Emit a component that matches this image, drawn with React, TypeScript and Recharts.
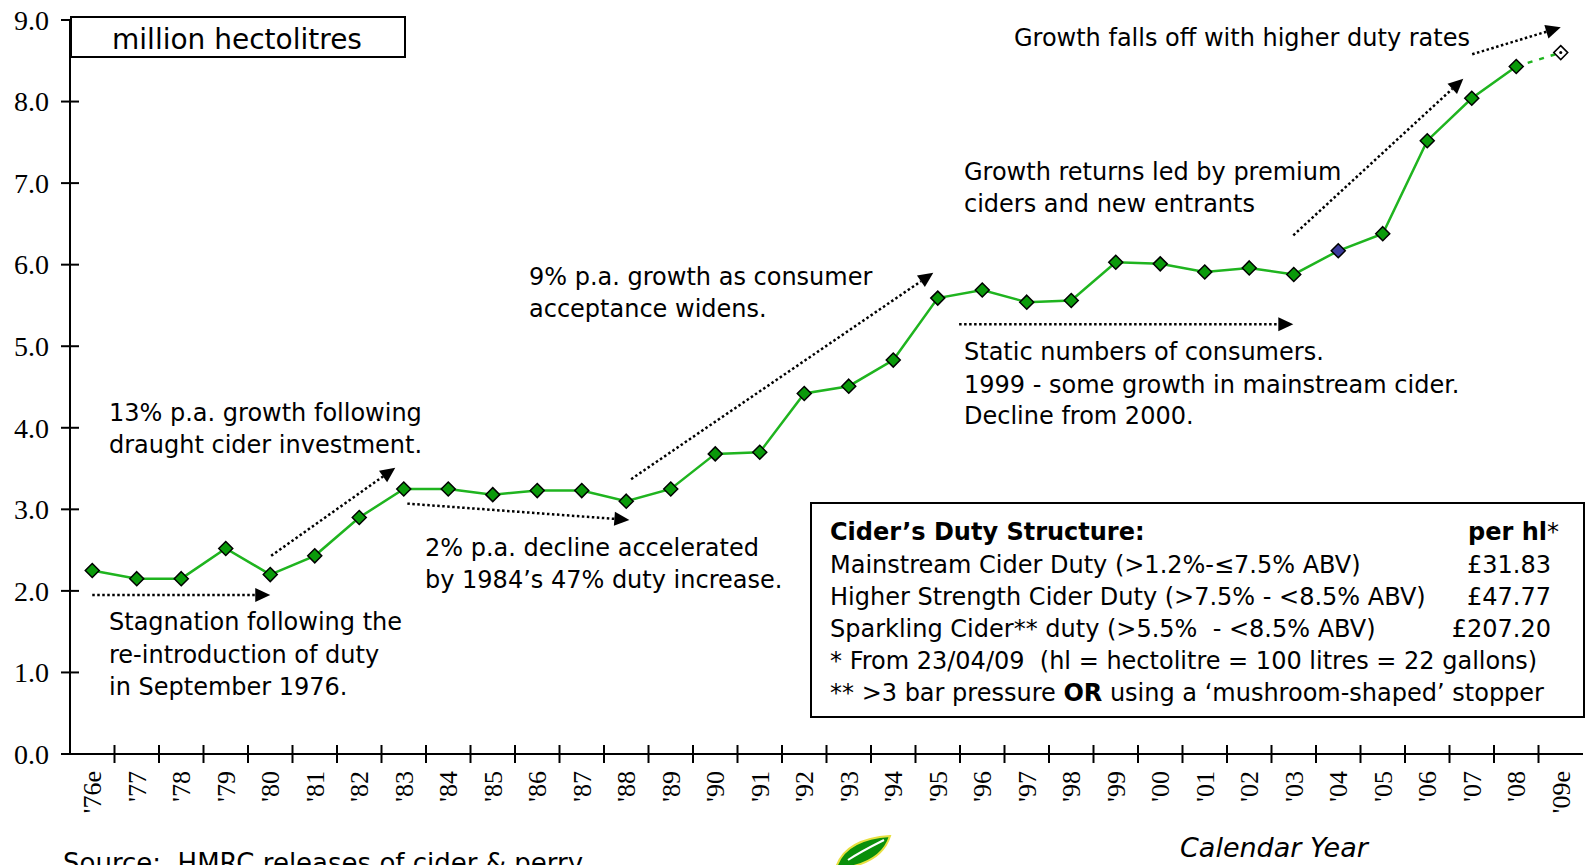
import { LineChart, Line, XAxis, YAxis, ReferenceLine } from "recharts";

const years = [
  "'76e", "'77", "'78", "'79", "'80", "'81", "'82", "'83", "'84", "'85", "'86", "'87",
  "'88", "'89", "'90", "'91", "'92", "'93", "'94", "'95", "'96", "'97", "'98", "'99",
  "'00", "'01", "'02", "'03", "'04", "'05", "'06", "'07", "'08", "'09e",
];

// million hectolitres
const volumes = [
  2.25, 2.15, 2.15, 2.52, 2.2, 2.43, 2.9, 3.25, 3.25, 3.18, 3.23, 3.23,
  3.1, 3.25, 3.68, 3.7, 4.42, 4.51, 4.83, 5.59, 5.69, 5.54, 5.56, 6.03,
  6.01, 5.91, 5.96, 5.88, 6.17, 6.38, 7.52, 8.04, 8.43, 8.6,
];

const highlightYear = "'04";
const estimateYear = "'09e";
const yTicks = [0, 1, 2, 3, 4, 5, 6, 7, 8, 9];

// dotted trend arrows, in chart units (category index, million hl)
const arrows = [
  { from: [0, 1.95], to: [4.0, 1.95] },
  { from: [4.02, 2.43], to: [6.81, 3.51] },
  { from: [7.08, 3.07], to: [12.07, 2.87] },
  { from: [12.11, 3.37], to: [18.9, 5.9] },
  { from: [19.48, 5.27], to: [26.99, 5.27] },
  { from: [26.99, 6.36], to: [30.81, 8.28] },
  { from: [31.01, 8.58], to: [33.0, 8.91] },
];

const dutyRows = [
  ["Mainstream Cider Duty (>1.2%-\u22647.5% ABV)", "\u00a331.83"],
  ["Higher Strength Cider Duty (>7.5% - <8.5% ABV)", "\u00a347.77"],
  ["Sparkling Cider** duty (>5.5%  - <8.5% ABV)", "\u00a3207.20"],
];

const lastEst = years.indexOf(estimateYear);
const data = years.map((label, i) => ({
  idx: i,
  label,
  actual: i < lastEst ? volumes[i] : null,
  estimate: i >= lastEst - 1 ? volumes[i] : null,
}));

const xTicks: number[] = [];
years.forEach((_, i) => {
  xTicks.push(i);
  if (i < years.length - 1) xTicks.push(i + 0.5);
});

const SANS = "'DejaVu Sans', Tahoma, sans-serif";
const SERIF = "'Liberation Serif', 'Times New Roman', serif";
const GREEN = "#1fb41f";

const XTick = (p: any) => {
  const { x, y, payload } = p;
  const v = payload.value;
  if (!Number.isInteger(v)) {
    return <line x1={x} x2={x} y1={y - 9} y2={y + 9} stroke="#000" strokeWidth={2} />;
  }
  return (
    <text
      transform={`translate(${x},${y + 17}) rotate(-90)`}
      textAnchor="end"
      dy="0.35em"
      fontFamily={SERIF}
      fontSize={26}
      fill="#000"
    >
      {years[v]}
    </text>
  );
};

const YTick = (p: any) => {
  const { x, y, payload } = p;
  return (
    <g>
      <line x1={x - 9} x2={x + 9} y1={y} y2={y} stroke="#000" strokeWidth={2} />
      <text x={x - 21} y={y} dy="0.35em" textAnchor="end" fontFamily={SERIF} fontSize={28} fill="#000">
        {Number(payload.value).toFixed(1)}
      </text>
    </g>
  );
};

const diamond = (cx: number, cy: number, fill: string, key: any) => (
  <polygon
    key={key}
    points={`${cx},${cy - 7} ${cx + 7},${cy} ${cx},${cy + 7} ${cx - 7},${cy}`}
    fill={fill}
    stroke="#000"
    strokeWidth={1.5}
  />
);

const ActualDot = (p: any) => {
  const { cx, cy, payload, index } = p;
  if (cx == null || cy == null || payload.actual == null) return <g key={`a${index}`} />;
  return diamond(cx, cy, payload.label === highlightYear ? "#3b3b9c" : "#0a9a0a", `a${index}`);
};

const EstimateDot = (p: any) => {
  const { cx, cy, payload, index } = p;
  if (cx == null || cy == null || payload.label !== estimateYear) return <g key={`e${index}`} />;
  return (
    <g key={`e${index}`}>
      {diamond(cx, cy, "#fff", "o")}
      <circle cx={cx} cy={cy} r={1.5} fill="#000" />
    </g>
  );
};

const Arrow = (p: any) => {
  const { x1, y1, x2, y2 } = p;
  const ang = Math.atan2(y2 - y1, x2 - x1);
  const len = 15;
  const w = 7;
  const bx = x2 - len * Math.cos(ang);
  const by = y2 - len * Math.sin(ang);
  const px = -Math.sin(ang) * w;
  const py = Math.cos(ang) * w;
  return (
    <g>
      <line x1={x1} y1={y1} x2={bx} y2={by} stroke="#000" strokeWidth={2.5} strokeDasharray="2.5 2.5" />
      <polygon points={`${x2},${y2} ${bx + px},${by + py} ${bx - px},${by - py}`} fill="#000" />
    </g>
  );
};

const txt = { fontFamily: SANS, fontSize: 24, fill: "#000", style: { whiteSpace: "pre" as const } };

const App = () => {
  return (
    <div style={{ position: "absolute", left: 0, top: 0, width: 1587, height: 865, background: "#fff", overflow: "hidden" }}>
      <LineChart
        width={1587}
        height={865}
        data={data}
        margin={{ top: 20, right: 4, left: 0, bottom: 0 }}
        style={{ fontFamily: SANS }}
      >
        <XAxis
          dataKey="idx"
          type="number"
          domain={[-0.5, years.length - 0.5]}
          ticks={xTicks}
          interval={0}
          tick={<XTick />}
          tickLine={false}
          tickSize={0}
          tickMargin={0}
          height={111}
          axisLine={{ stroke: "#000", strokeWidth: 2 }}
        />
        <YAxis
          type="number"
          domain={[0, 9]}
          ticks={yTicks}
          interval={0}
          tick={<YTick />}
          tickLine={false}
          tickSize={0}
          tickMargin={0}
          width={70}
          axisLine={{ stroke: "#000", strokeWidth: 2 }}
        />
        {arrows.map((a, i) => (
          <ReferenceLine
            key={i}
            segment={[
              { x: a.from[0], y: a.from[1] },
              { x: a.to[0], y: a.to[1] },
            ]}
            ifOverflow="visible"
            shape={Arrow}
          />
        ))}
        <Line
          type="linear"
          dataKey="estimate"
          stroke={GREEN}
          strokeWidth={2.5}
          strokeDasharray="5 7"
          dot={EstimateDot}
          activeDot={false}
          isAnimationActive={false}
        />
        <Line
          type="linear"
          dataKey="actual"
          stroke={GREEN}
          strokeWidth={2.5}
          dot={ActualDot}
          activeDot={false}
          isAnimationActive={false}
        />
      </LineChart>

      <svg width={1587} height={865} style={{ position: "absolute", left: 0, top: 0, pointerEvents: "none" }}>
        <rect x={71} y={17} width={334} height={40} fill="#fff" stroke="#000" strokeWidth={2} />
        <text x={237} y={49} textAnchor="middle" fontFamily={SANS} fontSize={28} fill="#000">
          million hectolitres
        </text>

        <text x={1470} y={46} textAnchor="end" {...txt}>Growth falls off with higher duty rates</text>

        <text x={964} y={180} {...txt}>Growth returns led by premium</text>
        <text x={964} y={212} {...txt}>ciders and new entrants</text>

        <text x={529} y={285} {...txt}>9% p.a. growth as consumer</text>
        <text x={529} y={317} {...txt}>acceptance widens.</text>

        <text x={964} y={360} {...txt}>Static numbers of consumers.</text>
        <text x={964} y={393} {...txt}>1999 - some growth in mainstream cider.</text>
        <text x={964} y={424} {...txt}>Decline from 2000.</text>

        <text x={109} y={421} {...txt}>13% p.a. growth following</text>
        <text x={109} y={453} {...txt}>draught cider investment.</text>

        <text x={425} y={556} {...txt}>2% p.a. decline accelerated</text>
        <text x={425} y={588} {...txt}>by 1984&rsquo;s 47% duty increase.</text>

        <text x={109} y={630} {...txt}>Stagnation following the</text>
        <text x={109} y={663} {...txt}>re-introduction of duty</text>
        <text x={109} y={695} {...txt}>in September 1976.</text>

        <rect x={811} y={503} width={773} height={214} fill="#fff" stroke="#000" strokeWidth={2} />
        <text x={830} y={540} {...txt} fontWeight="bold">Cider&rsquo;s Duty Structure:</text>
        <text x={1559} y={540} textAnchor="end" {...txt}>
          <tspan fontWeight="bold">per hl</tspan>*
        </text>
        {dutyRows.map((r, i) => (
          <g key={i}>
            <text x={830} y={573 + i * 32} {...txt}>{r[0]}</text>
            <text x={1551} y={573 + i * 32} textAnchor="end" {...txt}>{r[1]}</text>
          </g>
        ))}
        <text x={830} y={669} {...txt}>{"* From 23/04/09  (hl = hectolitre = 100 litres = 22 gallons)"}</text>
        <text x={830} y={701} {...txt}>
          ** &gt;3 bar pressure <tspan fontWeight="bold">OR</tspan> using a &lsquo;mushroom-shaped&rsquo; stopper
        </text>

        <text x={63} y={872} fontFamily={SANS} fontSize={26} fill="#000" style={{ whiteSpace: "pre" }}>
          {"Source:  HMRC releases of cider & perry"}
        </text>
        <path d="M836 868 C842 848 860 838 890 836 C885 852 870 864 844 868 Z" fill="#0a8f0a" stroke="#e8e040" strokeWidth={2} />
        <path d="M848 860 C860 852 872 846 884 840" stroke="#fff" strokeWidth={2} fill="none" />
        <text x={1180} y={857} fontFamily={SANS} fontStyle="italic" fontSize={27} fill="#000">
          Calendar Year
        </text>
      </svg>
    </div>
  );
};

export default App;
